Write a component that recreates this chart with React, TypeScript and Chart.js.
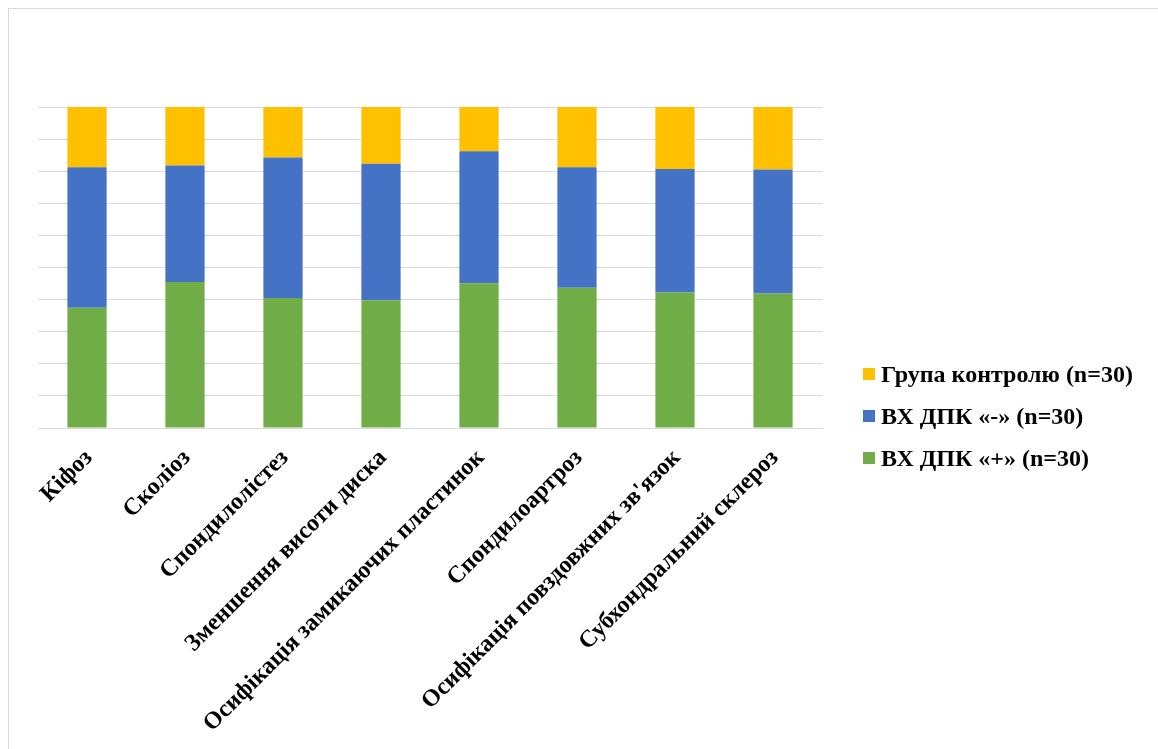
import React, { useEffect, useRef } from 'react';
import { Chart, registerables } from 'chart.js';

Chart.register(...registerables);

const categories: string[] = [
  'Кіфоз',
  'Сколіоз',
  'Спондилолістез',
  'Зменшення висоти диска',
  'Осифікація замикаючих пластинок',
  'Спондилоартроз',
  "Осифікація повздовжних зв'язок",
  'Субхондральний склероз',
];

const seriesNames: string[] = ['ВХ ДПК «+» (n=30)', 'ВХ ДПК «-» (n=30)', 'Група контролю (n=30)'];

// percentages (100% stacked)
const positiveValues: number[] = [37.5, 45.5, 40.5, 39.8, 45.1, 43.7, 42.2, 41.9];
const negativeValues: number[] = [43.7, 36.3, 43.8, 42.5, 41.1, 37.5, 38.5, 38.6];
const controlValues: number[] = [18.8, 18.2, 15.7, 17.7, 13.8, 18.8, 19.3, 19.5];

const yTicks: number[] = [0, 10, 20, 30, 40, 50, 60, 70, 80, 90, 100];

const COLORS = ['#70AD47', '#4472C4', '#FFC000'];
const FONT_FAMILY = '"Liberation Serif", "Times New Roman", serif';

const CANVAS_W = 1160;
const CANVAS_H = 750;

const sideLegend = {
  id: 'sideLegend',
  afterDraw(chart: any) {
    const ctx = chart.ctx;
    const area = chart.chartArea;
    const items = chart.data.datasets
      .map((d: any) => ({ label: d.label, color: d.backgroundColor }))
      .reverse();
    ctx.save();
    ctx.font = `bold 24px ${FONT_FAMILY}`;
    ctx.textAlign = 'left';
    ctx.textBaseline = 'alphabetic';
    items.forEach((it: any, i: number) => {
      const cy = 365 + i * 42;
      const x = area.right + 41;
      ctx.fillStyle = it.color;
      ctx.fillRect(x, cy - 6, 12, 12);
      ctx.fillStyle = '#000000';
      ctx.fillText(it.label, x + 18, cy + 8);
    });
    ctx.restore();
  },
};

export default function App() {
  const canvasRef = useRef<HTMLCanvasElement | null>(null);

  useEffect(() => {
    if (!canvasRef.current) return;
    const values = [positiveValues, negativeValues, controlValues];
    const chart = new Chart(canvasRef.current, {
      type: 'bar',
      data: {
        labels: categories,
        datasets: seriesNames.map((name, i) => ({
          label: name,
          data: values[i],
          backgroundColor: COLORS[i],
          borderWidth: 0,
          barPercentage: 0.4,
          categoryPercentage: 1,
        })),
      },
      options: {
        responsive: false,
        animation: false,
        devicePixelRatio: 1,
        layout: { padding: { top: 98, left: 29, right: CANVAS_W - 813, bottom: 0 } },
        plugins: {
          legend: { display: false },
          tooltip: { enabled: false },
          title: { display: false },
        },
        scales: {
          x: {
            stacked: true,
            grid: { display: false, drawTicks: false },
            border: { display: true, color: '#D9D9D9', width: 1 },
            ticks: {
              autoSkip: false,
              minRotation: 45,
              maxRotation: 45,
              padding: 16,
              labelOffset: 2,
              color: '#000000',
              font: { family: FONT_FAMILY, size: 24, weight: 'bold' },
            },
            afterFit: (s: any) => {
              s.height = CANVAS_H - 419;
            },
          },
          y: {
            stacked: true,
            min: 0,
            max: 100,
            afterBuildTicks: (s: any) => {
              s.ticks = yTicks.map((v) => ({ value: v }));
            },
            grid: { color: '#D9D9D9', lineWidth: 1, drawTicks: false },
            border: { display: false },
            ticks: { display: false },
            afterFit: (s: any) => {
              s.width = 0;
            },
          },
        },
      },
      plugins: [sideLegend],
    });
    return () => chart.destroy();
  }, []);

  return (
    <div
      style={{
        position: 'fixed',
        left: 8,
        top: 8,
        width: CANVAS_W + 1,
        height: CANVAS_H + 1,
        borderTop: '1px solid #D9D9D9',
        borderLeft: '1px solid #D9D9D9',
        boxSizing: 'border-box',
        background: '#FFFFFF',
        overflow: 'hidden',
      }}
    >
      <canvas
        ref={canvasRef}
        width={CANVAS_W}
        height={CANVAS_H}
        style={{ display: 'block', width: CANVAS_W, height: CANVAS_H }}
      />
    </div>
  );
}
